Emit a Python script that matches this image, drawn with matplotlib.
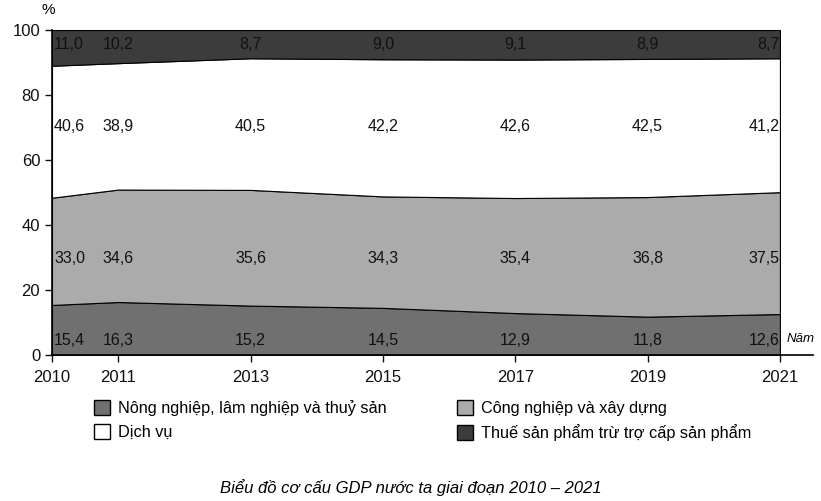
import matplotlib.pyplot as plt
from matplotlib.patches import Patch

plt.rcParams['font.family'] = ['Liberation Sans Narrow', 'Liberation Sans', 'DejaVu Sans']

# du lieu co cau GDP (%)
years = [2010, 2011, 2013, 2015, 2017, 2019, 2021]
nong_nghiep = [15.4, 16.3, 15.2, 14.5, 12.9, 11.8, 12.6]
cong_nghiep = [33.0, 34.6, 35.6, 34.3, 35.4, 36.8, 37.5]
dich_vu = [40.6, 38.9, 40.5, 42.2, 42.6, 42.5, 41.2]
thue = [11.0, 10.2, 8.7, 9.0, 9.1, 8.9, 8.7]

labels = ["Nông nghiệp, lâm nghiệp và thuỷ sản", "Công nghiệp và xây dựng",
          "Dịch vụ", "Thuế sản phẩm trừ trợ cấp sản phẩm"]
colors = ["#707070", "#ababab", "#ffffff", "#3c3c3c"]

fig = plt.figure(figsize=(8.21, 5.01), dpi=100)
ax = fig.add_axes([52 / 821, 146 / 501, 761 / 821, 325 / 501])

series = [nong_nghiep, cong_nghiep, dich_vu, thue]
ax.stackplot(years, *series, colors=colors, edgecolor="black", linewidth=0.8)

# nhan so lieu
label_y = [4.6, 29.8, 70.2, 95.4]
for vals, ly in zip(series, label_y):
    for i, (yr, v) in enumerate(zip(years, vals)):
        if i == 0:
            ha, xx = "left", yr + 0.03
        elif i == len(years) - 1:
            ha, xx = "right", yr - 0.01
        else:
            ha, xx = "center", yr
        ax.text(xx, ly, f"{v:.1f}".replace(".", ","), ha=ha, va="center",
                fontsize=11.5, color="#111111")

ax.set_xlim(2010, 2021.5)
ax.set_ylim(0, 100)
ax.set_xticks(years)
ax.set_yticks([0, 20, 40, 60, 80, 100])
ax.tick_params(axis="both", direction="out", length=5, width=1, labelsize=12,
               colors="#111111")
ax.tick_params(axis="x", pad=6)
ax.spines["top"].set_visible(False)
ax.spines["right"].set_visible(False)
ax.spines["left"].set_linewidth(1.2)
ax.spines["bottom"].set_linewidth(1.2)

ax.text(2021.1, 5, "Năm", fontsize=9.5, style="italic", ha="left", va="center")
fig.text(48 / 821, 1 - 10 / 501, "%", fontsize=11, ha="center", va="center")

handles = [Patch(facecolor=colors[0], edgecolor="black", label=labels[0]),
           Patch(facecolor=colors[2], edgecolor="black", label=labels[2]),
           Patch(facecolor=colors[1], edgecolor="black", label=labels[1]),
           Patch(facecolor=colors[3], edgecolor="black", label=labels[3])]
fig.legend(handles=handles, ncol=2, loc="upper left",
           bbox_to_anchor=(94 / 821, 1 - 400 / 501), frameon=False,
           fontsize=11.7, handlelength=1.0, handleheight=1.0,
           handletextpad=0.5, columnspacing=4.3, labelspacing=0.5,
           borderaxespad=0, borderpad=0)

fig.text(0.5, 1 - 488 / 501, "Biểu đồ cơ cấu GDP nước ta giai đoạn 2010 – 2021",
         fontsize=12, style="italic", ha="center", va="center")

fig.savefig("out.png", dpi=100)
